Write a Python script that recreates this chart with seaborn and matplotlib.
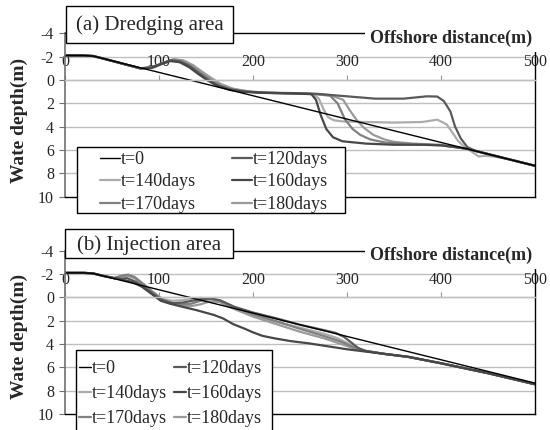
import matplotlib
matplotlib.use("Agg")
import matplotlib.pyplot as plt
import seaborn as sns
import pandas as pd
from matplotlib.lines import Line2D
from matplotlib.patches import Rectangle

sns.set_style("white")
plt.rcParams['font.family'] = ['Liberation Serif', 'DejaVu Serif']

# ---------------- data ----------------
series_names = ["t=0", "t=120days", "t=140days", "t=160days", "t=170days", "t=180days"]
colors = {"t=0": "#000000", "t=120days": "#5a5a5a", "t=140days": "#acacac",
          "t=160days": "#474747", "t=170days": "#808080", "t=180days": "#9a9a9a"}
x_ticks = [0, 100, 200, 300, 400, 500]
y_ticks = [-4, -2, 0, 2, 4, 6, 8, 10]

# initial profile (both panels)
x_t0 = [0, 20, 30, 40, 500]
y_t0 = [-2.1, -2.1, -2.05, -1.85, 7.35]

# (a) Dredging area
a_x_120 = [0, 20, 30, 40, 80, 92, 102, 112, 122, 132, 142, 152, 162, 175, 190, 210, 240, 270, 300, 330, 360, 385, 396, 403, 410, 415, 421, 428, 436, 470, 500]
a_y_120 = [-2.1, -2.1, -2.05, -1.85, -1.0, -1.05, -1.4, -1.68, -1.6, -1.2, -0.6, 0.0, 0.45, 0.8, 0.98, 1.08, 1.12, 1.2, 1.4, 1.6, 1.6, 1.4, 1.42, 1.8, 2.7, 4.0, 5.0, 5.75, 6.05, 6.75, 7.35]
a_x_140 = [0, 20, 30, 40, 80, 95, 105, 115, 125, 135, 145, 155, 165, 178, 195, 215, 245, 265, 270, 275, 280, 286, 295, 320, 350, 380, 396, 406, 412, 418, 425, 432, 440, 447, 455, 470, 500]
a_y_140 = [-2.1, -2.1, -2.05, -1.85, -1.0, -1.1, -1.45, -1.75, -1.65, -1.25, -0.65, -0.1, 0.4, 0.8, 1.0, 1.1, 1.15, 1.25, 1.6, 2.5, 3.2, 3.45, 3.55, 3.6, 3.65, 3.6, 3.4, 3.8, 4.5, 5.2, 5.75, 6.1, 6.55, 6.5, 6.55, 6.75, 7.35]
a_x_160 = [0, 20, 30, 40, 80, 92, 102, 112, 122, 132, 142, 152, 162, 175, 190, 210, 240, 262, 267, 272, 278, 285, 295, 320, 350, 380, 400, 415, 428, 440, 470, 500]
a_y_160 = [-2.1, -2.1, -2.05, -1.85, -1.0, -1.05, -1.35, -1.62, -1.52, -1.1, -0.5, 0.05, 0.5, 0.85, 1.02, 1.1, 1.15, 1.2, 1.7, 3.0, 4.2, 4.9, 5.25, 5.45, 5.55, 5.55, 5.6, 5.75, 5.9, 6.15, 6.75, 7.35]
a_x_170 = [0, 20, 30, 40, 80, 94, 104, 114, 124, 134, 144, 154, 164, 177, 192, 212, 240, 265, 282, 290, 298, 306, 314, 325, 340, 370, 400, 415, 428, 440, 470, 500]
a_y_170 = [-2.1, -2.1, -2.05, -1.85, -1.0, -1.08, -1.45, -1.72, -1.62, -1.2, -0.6, -0.05, 0.45, 0.8, 1.0, 1.1, 1.15, 1.2, 1.35, 2.0, 3.4, 4.2, 4.7, 5.1, 5.35, 5.5, 5.6, 5.75, 5.9, 6.15, 6.75, 7.35]
a_x_180 = [0, 20, 30, 40, 80, 96, 106, 116, 126, 136, 146, 156, 166, 179, 196, 216, 245, 270, 282, 296, 303, 310, 318, 328, 340, 350, 370, 400, 415, 428, 440, 470, 500]
a_y_180 = [-2.1, -2.1, -2.05, -1.85, -1.0, -1.12, -1.5, -1.78, -1.68, -1.28, -0.7, -0.15, 0.35, 0.75, 0.98, 1.1, 1.15, 1.2, 1.3, 1.7, 2.6, 3.4, 4.1, 4.7, 5.1, 5.3, 5.45, 5.55, 5.75, 5.9, 6.15, 6.75, 7.35]

# (b) Injection area
b_x_120 = [0, 20, 30, 40, 52, 60, 66, 75, 85, 95, 105, 115, 125, 135, 145, 155, 165, 180, 200, 225, 250, 275, 288, 297, 305, 312, 320, 340, 365, 400, 450, 500]
b_y_120 = [-2.1, -2.1, -2.05, -1.85, -1.65, -1.6, -1.65, -1.35, -0.8, -0.2, 0.3, 0.5, 0.45, 0.3, 0.15, 0.1, 0.25, 0.8, 1.3, 1.8, 2.35, 2.8, 3.05, 3.4, 3.9, 4.35, 4.6, 4.85, 5.1, 5.65, 6.5, 7.45]
b_x_140 = [0, 20, 30, 40, 52, 60, 67, 74, 84, 94, 104, 114, 124, 134, 144, 154, 164, 180, 200, 225, 250, 275, 290, 305, 318, 340, 365, 400, 450, 500]
b_y_140 = [-2.1, -2.1, -2.05, -1.85, -1.65, -1.8, -1.9, -1.7, -1.1, -0.45, 0.15, 0.3, 0.25, 0.15, 0.05, 0.1, 0.3, 0.9, 1.55, 2.1, 2.6, 3.1, 3.5, 4.1, 4.55, 4.85, 5.1, 5.65, 6.5, 7.45]
b_x_160 = [0, 20, 30, 40, 52, 62, 72, 82, 92, 102, 112, 122, 140, 158, 168, 179, 190, 200, 210, 222, 240, 260, 280, 300, 320, 340, 365, 400, 450, 500]
b_y_160 = [-2.1, -2.1, -2.05, -1.85, -1.65, -1.5, -1.3, -0.9, -0.3, 0.3, 0.55, 0.75, 1.1, 1.5, 1.8, 2.3, 2.65, 3.0, 3.3, 3.5, 3.75, 3.95, 4.2, 4.45, 4.65, 4.85, 5.1, 5.65, 6.5, 7.45]
b_x_170 = [0, 20, 30, 40, 52, 60, 67, 74, 84, 94, 104, 114, 124, 134, 144, 154, 164, 180, 200, 225, 250, 275, 292, 308, 320, 340, 365, 400, 450, 500]
b_y_170 = [-2.1, -2.1, -2.05, -1.85, -1.65, -1.85, -1.95, -1.75, -1.1, -0.4, 0.2, 0.5, 0.6, 0.55, 0.3, 0.15, 0.25, 0.85, 1.45, 2.05, 2.7, 3.3, 3.75, 4.3, 4.6, 4.85, 5.1, 5.65, 6.5, 7.45]
b_x_180 = [0, 20, 30, 40, 52, 60, 67, 74, 84, 94, 104, 114, 124, 134, 144, 154, 164, 180, 200, 225, 250, 275, 292, 308, 320, 340, 365, 400, 450, 500]
b_y_180 = [-2.1, -2.1, -2.05, -1.85, -1.65, -1.8, -1.85, -1.65, -1.0, -0.35, 0.25, 0.55, 0.7, 0.75, 0.6, 0.35, 0.4, 1.0, 1.65, 2.3, 2.95, 3.5, 3.95, 4.4, 4.6, 4.85, 5.1, 5.65, 6.5, 7.45]

panels = [
    {"title": "(a) Dredging area",
     "series": {"t=0": (x_t0, y_t0), "t=120days": (a_x_120, a_y_120), "t=140days": (a_x_140, a_y_140),
                "t=160days": (a_x_160, a_y_160), "t=170days": (a_x_170, a_y_170), "t=180days": (a_x_180, a_y_180)}},
    {"title": "(b) Injection area",
     "series": {"t=0": (x_t0, y_t0), "t=120days": (b_x_120, b_y_120), "t=140days": (b_x_140, b_y_140),
                "t=160days": (b_x_160, b_y_160), "t=170days": (b_x_170, b_y_170), "t=180days": (b_x_180, b_y_180)}},
]

# ---------------- figure ----------------
W, H = 550, 430
fig = plt.figure(figsize=(5.5, 4.3), dpi=100)

def fx(px):
    return px / W

def fy(py):
    return 1 - py / H

axes_px = [(65, 33.3, 535, 196.7), (65, 250.7, 535, 414)]
titlebox_px = [(66, 6, 233, 43), (65, 229, 233, 258)]
title_px = [(149.5, 25.5), (149, 245)]
xlabel_px = [(451, 38), (451, 255)]
ylabel_px = [(19, 120), (19, 336)]
# legend box (left, top, right, bottom) and content (handle x, top y, handlelength, colspacing, labelspacing)
legbox_px = [(77, 147, 345, 213), (76, 350, 272, 445)]
legcontent = [(100, 151, 1.1, 2.0, 0.3), (79, 360, 0.65, 0.42, 0.45)]

gray_grid = "#bfbfbf"
LEGFS = 13

for i, p in enumerate(panels):
    l, t, r, b = axes_px[i]
    ax = fig.add_axes([fx(l), fy(b), fx(r) - fx(l), fy(t) - fy(b)])
    rows = []
    for name in series_names:
        xs, ys = p["series"][name]
        for xv, yv in zip(xs, ys):
            rows.append({"x": xv, "depth": yv, "series": name})
    df = pd.DataFrame(rows)
    draw_order = ["t=140days", "t=180days", "t=170days", "t=120days", "t=160days", "t=0"]
    for name in draw_order:
        sub = df[df["series"] == name]
        sns.lineplot(data=sub, x="x", y="depth", ax=ax, color=colors[name],
                     lw=1.0 if name == "t=0" else 1.6, sort=False, estimator=None,
                     legend=False)
    ax.set_xlim(0, 500)
    ax.set_ylim(10, -4)
    ax.set_xlabel("")
    ax.set_ylabel("")
    for gy in [-2, 0, 2, 4, 6, 8]:
        ax.axhline(gy, color=gray_grid, lw=1.0, zorder=0)
    for s in ["bottom", "right"]:
        ax.spines[s].set_color("black")
        ax.spines[s].set_linewidth(1.0)
    ax.spines["left"].set_color("#707070")
    ax.spines["left"].set_linewidth(1.2)
    ax.spines["top"].set_position(("data", 0))
    ax.spines["top"].set_color(gray_grid)
    ax.spines["top"].set_linewidth(1.0)
    ax.axhline(-4, color="black", lw=1.0, clip_on=False, zorder=5)
    ax.set_xticks(x_ticks)
    ax.set_xticklabels([str(v) for v in x_ticks])
    ax.set_yticks(y_ticks)
    ax.set_yticklabels([str(v) for v in y_ticks])
    ax.tick_params(axis="x", which="both", top=True, bottom=False, labeltop=True,
                   labelbottom=False, direction="out", length=3.5, width=0.8,
                   color="#999999", pad=3.5, labelsize=11.5)
    ax.tick_params(axis="y", left=True, direction="out", length=4, width=0.8,
                   color="#707070", pad=4, labelsize=11.5)

    # panel title box
    bl, bt, br, bb = titlebox_px[i]
    fig.add_artist(Rectangle((fx(bl), fy(bb)), fx(br) - fx(bl), fy(bt) - fy(bb),
                             transform=fig.transFigure, fc="white", ec="black", lw=1.0,
                             zorder=9))
    tx, ty = title_px[i]
    fig.text(fx(tx), fy(ty), p["title"], ha="center", va="center", fontsize=15, zorder=10)
    # x-axis title
    xx, xy = xlabel_px[i]
    fig.text(fx(xx), fy(xy), "Offshore distance(m)", ha="center", va="center", fontsize=13,
             fontweight="bold", bbox=dict(boxstyle="square,pad=0.3", fc="white", ec="none"), zorder=10)
    # y-axis title
    yx, yy = ylabel_px[i]
    fig.text(fx(yx), fy(yy), "Wate depth(m)", ha="center", va="center", fontsize=14,
             fontweight="bold", rotation=90)

    # legend box
    bl, bt, br, bb = legbox_px[i]
    fig.add_artist(Rectangle((fx(bl), fy(bb)), fx(br) - fx(bl), fy(bt) - fy(bb),
                             transform=fig.transFigure, fc="white", ec="black", lw=1.0,
                             zorder=9))
    handles = [Line2D([], [], color=colors[n], lw=1.0 if n == "t=0" else 1.6) for n in series_names]
    order = [0, 2, 4, 1, 3, 5]
    hx, hy, hl, cs, ls = legcontent[i]
    leg = fig.legend([handles[k] for k in order], [series_names[k] for k in order], ncol=2,
                     loc="upper left", bbox_to_anchor=(fx(hx), fy(hy)),
                     frameon=False, fontsize=LEGFS, handlelength=hl, handletextpad=0.05,
                     labelspacing=ls, borderpad=0, borderaxespad=0, columnspacing=cs)
    leg.set_zorder(10)

fig.savefig("out.png", dpi=100)
